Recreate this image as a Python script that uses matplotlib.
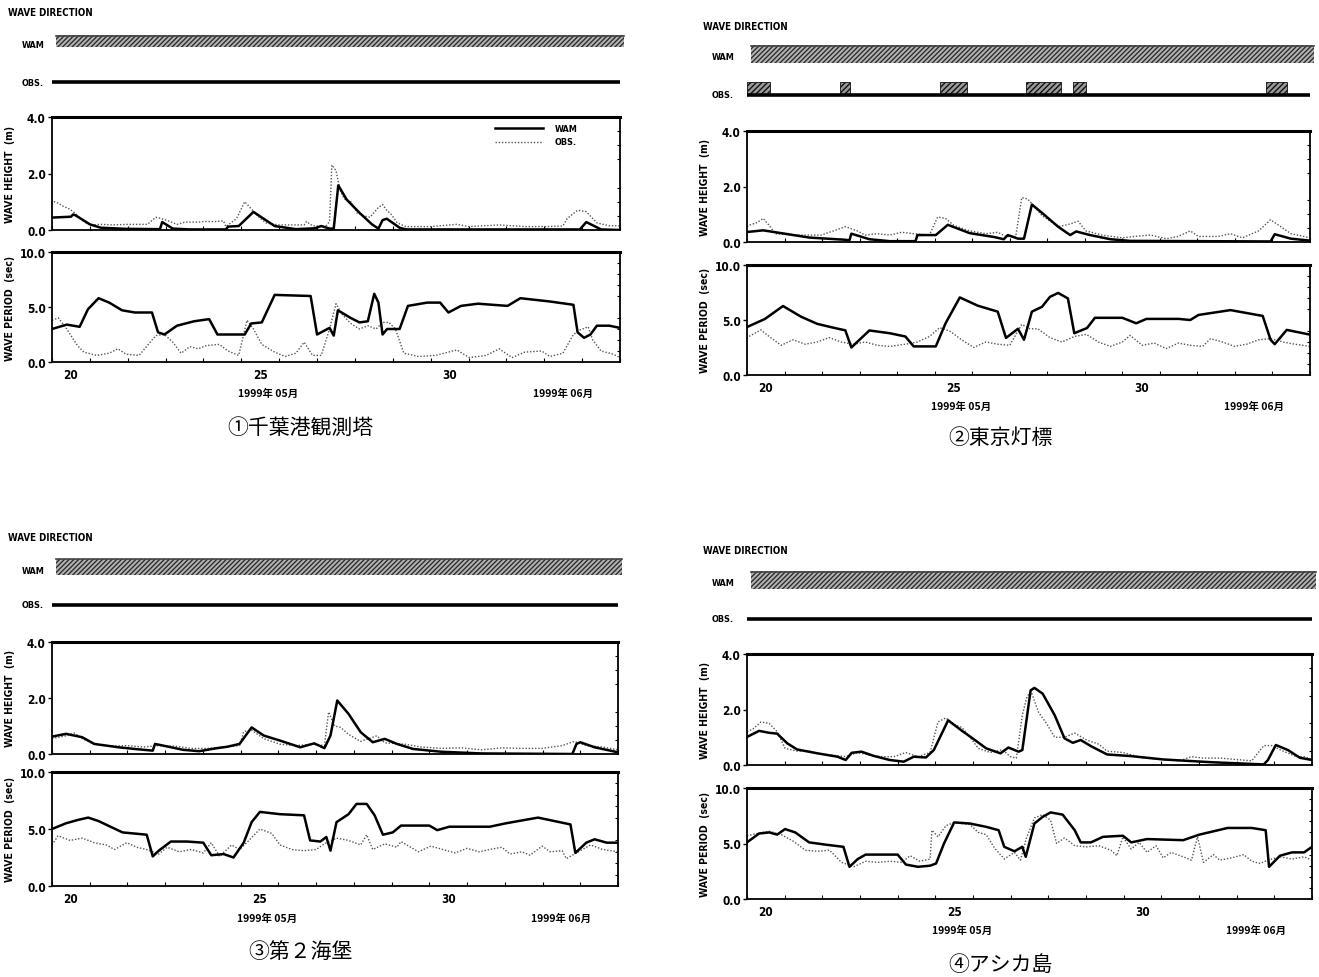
import matplotlib
matplotlib.use('Agg')
import matplotlib.pyplot as plt
from matplotlib.patches import Rectangle
from matplotlib.lines import Line2D
from matplotlib.ticker import MultipleLocator

W, H = 1319, 978
fig = plt.figure(figsize=(W / 100, H / 100), dpi=100)
fig.patch.set_facecolor('white')

FONT = ['DejaVu Sans']
FKW = dict(family=FONT, stretch='condensed', weight='bold')
JP = ['Noto Sans CJK JP', 'DejaVu Sans']

# ---------------- data (day of May 1999, value) ----------------
# Panel 1  千葉港観測塔
p1_hs_wam_t = [20.0, 20.5, 20.56, 20.62, 21.0, 21.29, 21.96, 22.85, 22.91, 23.19, 23.64, 24.59, 24.65, 24.93, 25.32,
               25.88, 26.44, 26.94, 27.11, 27.33, 27.44, 27.56, 27.78, 28.12, 28.45, 28.62, 28.73, 28.84, 29.18,
               29.35, 33.94, 34.11, 34.5, 35.0]
p1_hs_wam = [0.44, 0.47, 0.55, 0.52, 0.2, 0.08, 0.04, 0.03, 0.28, 0.05, 0.02, 0.02, 0.12, 0.14, 0.64,
             0.14, 0.03, 0.06, 0.14, 0.05, 0.05, 1.58, 1.08, 0.61, 0.2, 0.05, 0.35, 0.4, 0.08,
             0.02, 0.02, 0.28, 0.02, 0.0]
p1_hs_obs_t = [20.0, 20.06, 20.17, 20.28, 20.45, 20.56, 20.84, 21.0, 21.29, 21.6, 22.0, 22.52, 22.74, 22.85, 23.08,
               23.3, 23.52, 23.86, 24.0, 24.3, 24.53, 24.59, 24.87, 25.09, 25.26, 25.43, 25.65, 25.99, 26.66,
               26.72, 26.88, 27.22, 27.33, 27.39, 27.5, 27.61, 27.72, 27.89, 28.06, 28.23, 28.4, 28.62, 28.73,
               28.84, 28.96, 29.12, 29.35, 30.0, 30.69, 31.0, 31.81, 32.5, 33.0, 33.49, 33.6, 33.88, 34.11,
               34.39, 34.72, 35.0]
p1_hs_obs = [0.9, 1.0, 0.95, 0.85, 0.75, 0.65, 0.3, 0.18, 0.2, 0.18, 0.2, 0.2, 0.45, 0.42, 0.32,
             0.2, 0.28, 0.28, 0.3, 0.3, 0.32, 0.12, 0.4, 1.0, 0.75, 0.5, 0.25, 0.18, 0.18,
             0.3, 0.15, 0.12, 0.3, 2.3, 2.1, 1.4, 1.1, 1.0, 0.6, 0.5, 0.45, 0.8, 0.9,
             0.7, 0.55, 0.25, 0.12, 0.12, 0.2, 0.12, 0.18, 0.12, 0.12, 0.14, 0.4, 0.7, 0.65,
             0.25, 0.15, 0.15]
p1_tp_wam_t = [20.0, 20.39, 20.73, 20.95, 21.23, 21.51, 21.85, 22.19, 22.64, 22.8, 22.97, 23.3, 23.75, 24.15, 24.37,
               25.09, 25.26, 25.54, 25.88, 26.83, 27.0, 27.33, 27.44, 27.55, 27.89, 28.12, 28.34, 28.51, 28.62,
               28.73, 28.85, 29.18, 29.4, 29.91, 30.25, 30.47, 30.8, 31.25, 32.03, 32.37, 33.15, 33.77, 33.88,
               34.05, 34.22, 34.39, 34.72, 35.0]
p1_tp_wam = [3.0, 3.4, 3.2, 4.8, 5.8, 5.4, 4.7, 4.5, 4.5, 2.7, 2.5, 3.3, 3.7, 3.9, 2.5,
             2.5, 3.5, 3.6, 6.1, 6.0, 2.5, 3.1, 2.4, 4.7, 4.0, 3.6, 3.7, 6.2, 5.4,
             2.5, 3.0, 3.0, 5.1, 5.4, 5.4, 4.5, 5.1, 5.3, 5.1, 5.8, 5.5, 5.2, 2.7,
             2.2, 2.5, 3.3, 3.3, 3.1]
p1_tp_obs_t = [20.0, 20.17, 20.39, 20.67, 20.84, 21.18, 21.51, 21.74, 21.96, 22.3, 22.52, 22.74, 22.97, 23.19, 23.41,
               23.64, 23.86, 24.08, 24.42, 24.65, 24.93, 25.15, 25.32, 25.54, 25.88, 26.16, 26.44, 26.66, 26.88,
               27.11, 27.33, 27.5, 27.67, 27.89, 28.12, 28.34, 28.56, 28.73, 28.9, 29.07, 29.29, 29.68, 30.13,
               30.69, 31.02, 31.47, 31.81, 32.15, 32.49, 32.93, 33.15, 33.49, 33.77, 33.94, 34.16, 34.28, 34.5,
               34.83, 35.0]
p1_tp_obs = [3.8, 4.0, 3.0, 1.5, 0.9, 0.6, 0.8, 1.2, 0.7, 0.6, 1.5, 2.4, 2.5, 1.8, 0.8,
             1.4, 1.2, 1.5, 1.6, 1.0, 0.6, 3.8, 3.0, 1.6, 0.9, 0.5, 0.8, 1.8, 0.6,
             0.6, 3.0, 5.3, 4.3, 3.5, 3.0, 3.3, 3.0, 3.6, 3.6, 3.0, 0.8, 0.5, 0.6,
             1.1, 0.4, 0.6, 1.2, 0.4, 0.9, 1.0, 0.5, 0.8, 2.5, 2.9, 3.2, 2.0, 1.0,
             0.7, 0.4]

# Panel 2  東京灯標
p2_hs_wam_t = [20.0, 20.43, 20.91, 21.66, 22.62, 22.73, 22.78, 23.26, 23.8, 24.49, 24.54, 25.03, 25.35, 25.93, 26.58,
               26.84, 26.95, 27.22, 27.38, 27.59, 27.86, 28.29, 28.61, 28.77, 29.14, 29.68, 30.21, 33.95, 34.06,
               34.49, 35.0]
p2_hs_wam = [0.36, 0.42, 0.32, 0.16, 0.08, 0.06, 0.3, 0.1, 0.03, 0.03, 0.25, 0.25, 0.62, 0.32, 0.18,
             0.1, 0.25, 0.12, 0.12, 1.35, 1.05, 0.55, 0.25, 0.38, 0.25, 0.1, 0.04, 0.02, 0.28,
             0.12, 0.05]
p2_hs_obs_t = [20.0, 20.05, 20.27, 20.43, 20.59, 20.75, 21.23, 21.98, 22.3, 22.62, 22.94, 23.15, 23.47, 23.8, 24.12,
               24.44, 24.86, 25.08, 25.29, 25.51, 25.93, 26.36, 26.68, 26.9, 27.16, 27.32, 27.48, 27.64, 27.86,
               28.29, 28.61, 28.82, 29.03, 29.46, 30.0, 30.32, 30.75, 31.17, 31.49, 31.81, 32.03, 32.56, 32.88,
               33.2, 33.63, 33.95, 34.17, 34.49, 35.0]
p2_hs_obs = [0.55, 0.6, 0.7, 0.85, 0.6, 0.3, 0.25, 0.25, 0.4, 0.55, 0.4, 0.25, 0.3, 0.25, 0.35,
             0.3, 0.25, 0.9, 0.85, 0.6, 0.4, 0.3, 0.35, 0.2, 0.2, 1.6, 1.55, 1.3, 0.95,
             0.55, 0.65, 0.75, 0.4, 0.25, 0.15, 0.2, 0.25, 0.12, 0.2, 0.4, 0.2, 0.2, 0.3,
             0.15, 0.4, 0.8, 0.6, 0.3, 0.15]
p2_tp_wam_t = [20.0, 20.48, 20.96, 21.44, 21.87, 22.3, 22.62, 22.78, 23.26, 23.8, 24.22, 24.44, 25.03, 25.29, 25.67,
               26.15, 26.68, 26.9, 27.22, 27.38, 27.59, 27.86, 28.07, 28.29, 28.55, 28.72, 29.06, 29.27, 30.0,
               30.37, 30.64, 31.5, 31.81, 32.03, 32.88, 33.74, 33.95, 34.06, 34.38, 35.0]
p2_tp_wam = [4.36, 5.1, 6.27, 5.3, 4.65, 4.3, 4.06, 2.5, 4.05, 3.8, 3.5, 2.6, 2.6, 4.7, 7.05,
             6.3, 5.76, 3.37, 4.2, 3.2, 5.76, 6.2, 7.1, 7.46, 6.96, 3.8, 4.27, 5.2, 5.2,
             4.7, 5.1, 5.1, 5.0, 5.46, 5.9, 5.37, 3.2, 2.8, 4.1, 3.67]
p2_tp_obs_t = [20.0, 20.05, 20.37, 20.59, 20.91, 21.23, 21.55, 21.87, 22.19, 22.51, 22.83, 23.15, 23.47, 23.8, 24.22,
               24.54, 24.86, 25.13, 25.4, 25.72, 26.04, 26.36, 26.68, 27.0, 27.32, 27.54, 27.75, 28.07, 28.39,
               28.72, 29.04, 29.36, 29.68, 30.0, 30.21, 30.53, 30.85, 31.17, 31.49, 31.81, 32.14, 32.35, 32.67,
               32.99, 33.31, 33.63, 33.95, 34.28, 34.6, 35.0]
p2_tp_obs = [3.3, 3.5, 4.1, 3.5, 2.7, 3.2, 2.8, 3.0, 3.4, 3.0, 2.8, 3.0, 2.7, 2.6, 2.8,
             3.0, 3.5, 4.3, 4.0, 3.2, 2.5, 3.0, 2.8, 2.7, 4.6, 4.2, 4.2, 3.4, 3.0,
             3.5, 3.7, 3.0, 2.6, 3.0, 3.6, 2.7, 2.9, 2.4, 2.9, 2.7, 2.6, 3.3, 3.0,
             2.6, 2.8, 3.2, 3.3, 3.0, 2.8, 2.6]

# Panel 3  第２海堡
p3_hs_wam_t = [20.0, 20.37, 20.8, 21.12, 21.76, 22.19, 22.67, 22.73, 23.05, 23.47, 23.9, 24.33, 24.65, 24.97, 25.29,
               25.61, 26.04, 26.58, 26.95, 27.22, 27.38, 27.56, 27.86, 28.18, 28.5, 28.82, 29.14, 29.57, 30.32,
               31.39, 33.79, 33.9, 34.0, 34.38, 35.0]
p3_hs_wam = [0.62, 0.72, 0.6, 0.36, 0.24, 0.18, 0.12, 0.36, 0.27, 0.15, 0.1, 0.2, 0.26, 0.36, 0.95,
             0.66, 0.48, 0.24, 0.38, 0.21, 0.66, 1.91, 1.43, 0.78, 0.42, 0.54, 0.36, 0.18, 0.08,
             0.02, 0.0, 0.36, 0.42, 0.24, 0.06]
p3_hs_obs_t = [20.0, 20.37, 20.59, 20.8, 21.12, 21.55, 21.98, 22.41, 22.83, 23.26, 23.69, 24.12, 24.55, 24.97, 25.08,
               25.29, 25.61, 26.04, 26.47, 26.9, 27.22, 27.33, 27.49, 27.65, 27.86, 28.18, 28.61, 28.82, 29.35,
               29.78, 30.32, 30.85, 31.39, 31.92, 32.45, 32.99, 33.52, 33.84, 34.16, 34.59, 35.0]
p3_hs_obs = [0.55, 0.65, 0.75, 0.55, 0.35, 0.28, 0.3, 0.25, 0.3, 0.28, 0.2, 0.2, 0.25, 0.3, 0.8,
             0.85, 0.55, 0.35, 0.3, 0.35, 0.3, 1.5, 1.0, 0.95, 0.7, 0.45, 0.65, 0.4, 0.35,
             0.25, 0.2, 0.22, 0.15, 0.22, 0.2, 0.2, 0.3, 0.45, 0.3, 0.25, 0.15]
p3_tp_wam_t = [20.0, 20.37, 20.69, 20.96, 21.23, 21.55, 21.87, 22.19, 22.51, 22.67, 22.83, 23.15, 23.58, 24.01, 24.22,
               24.55, 24.81, 25.08, 25.29, 25.51, 26.04, 26.68, 26.84, 27.11, 27.27, 27.38, 27.54, 27.86, 28.07,
               28.34, 28.55, 28.77, 29.03, 29.25, 30.0, 30.21, 30.53, 31.6, 32.03, 32.88, 33.74, 33.87, 34.16,
               34.38, 34.7, 35.0]
p3_tp_wam = [5.0, 5.5, 5.8, 6.0, 5.7, 5.2, 4.7, 4.6, 4.5, 2.6, 3.1, 3.9, 3.9, 3.8, 2.7,
             2.8, 2.5, 3.8, 5.6, 6.5, 6.3, 6.2, 4.0, 3.9, 4.3, 3.1, 5.6, 6.3, 7.2,
             7.2, 6.2, 4.5, 4.7, 5.3, 5.3, 4.9, 5.2, 5.2, 5.5, 6.0, 5.4, 2.9, 3.8,
             4.1, 3.8, 3.8]
p3_tp_obs_t = [20.0, 20.16, 20.48, 20.8, 21.12, 21.44, 21.66, 21.98, 22.25, 22.51, 22.83, 23.05, 23.37, 23.69, 24.01,
               24.22, 24.44, 24.76, 24.97, 25.19, 25.51, 25.83, 26.04, 26.36, 26.68, 27.0, 27.22, 27.54, 27.86,
               28.18, 28.34, 28.5, 28.82, 29.14, 29.25, 29.71, 30.04, 30.36, 30.68, 31.0, 31.32, 31.6, 31.92,
               32.14, 32.45, 32.67, 32.99, 33.2, 33.52, 33.63, 33.95, 34.27, 34.6, 35.0]
p3_tp_obs = [3.6, 4.4, 4.0, 4.2, 3.8, 3.6, 3.2, 3.8, 3.4, 3.2, 2.8, 3.4, 3.0, 3.2, 2.9,
             3.8, 2.6, 3.6, 3.2, 3.9, 5.0, 4.6, 3.6, 3.2, 3.1, 3.2, 3.7, 4.2, 4.0,
             3.6, 4.5, 3.2, 3.7, 3.4, 3.9, 3.0, 3.5, 3.2, 2.9, 3.3, 3.0, 3.2, 3.4,
             2.8, 3.0, 2.7, 3.5, 3.0, 3.1, 2.4, 3.0, 3.6, 3.2, 3.0]

# Panel 4  アシカ島
p4_hs_wam_t = [20.0, 20.32, 20.59, 20.8, 21.07, 21.33, 21.87, 22.4, 22.62, 22.78, 23.04, 23.36, 23.79, 24.16, 24.43,
               24.75, 24.96, 25.34, 25.71, 26.03, 26.35, 26.73, 26.94, 27.21, 27.31, 27.53, 27.63, 27.85, 28.17,
               28.43, 28.65, 28.86, 29.13, 29.56, 30.2, 31.05, 32.33, 33.72, 33.83, 34.04, 34.36, 34.68, 35.0]
p4_hs_wam = [1.01, 1.23, 1.16, 1.13, 0.78, 0.56, 0.42, 0.3, 0.18, 0.44, 0.48, 0.33, 0.18, 0.12, 0.3,
             0.27, 0.54, 1.61, 1.23, 0.92, 0.6, 0.42, 0.63, 0.48, 0.54, 2.69, 2.78, 2.57, 1.79,
             0.96, 0.8, 0.9, 0.68, 0.38, 0.32, 0.2, 0.1, 0.02, 0.18, 0.72, 0.54, 0.26, 0.18]
p4_hs_obs_t = [20.0, 20.16, 20.37, 20.59, 20.8, 21.01, 21.33, 21.65, 21.97, 22.3, 22.62, 22.94, 23.26, 23.58, 23.9,
               24.22, 24.54, 24.86, 25.07, 25.28, 25.5, 25.71, 25.92, 26.14, 26.46, 26.78, 26.99, 27.15, 27.31,
               27.42, 27.53, 27.74, 27.95, 28.17, 28.43, 28.7, 29.02, 29.34, 29.56, 29.98, 30.52, 31.05, 31.48,
               31.8, 32.12, 32.55, 32.97, 33.4, 33.72, 33.94, 34.15, 34.58, 34.79, 35.0]
p4_hs_obs = [1.2, 1.3, 1.55, 1.5, 1.2, 0.6, 0.5, 0.5, 0.4, 0.35, 0.3, 0.45, 0.35, 0.3, 0.3,
             0.45, 0.3, 0.45, 1.55, 1.7, 1.45, 1.35, 1.0, 0.6, 0.45, 0.55, 0.3, 0.25, 1.8,
             2.4, 2.7, 1.9, 1.5, 1.0, 1.0, 1.15, 0.9, 0.75, 0.5, 0.45, 0.25, 0.2, 0.15,
             0.3, 0.25, 0.25, 0.2, 0.15, 0.7, 0.7, 0.55, 0.3, 0.3, 0.2]
p4_tp_wam_t = [20.0, 20.32, 20.59, 20.8, 21.01, 21.28, 21.65, 22.08, 22.56, 22.72, 22.94, 23.15, 24.0, 24.22, 24.54,
               24.86, 25.02, 25.23, 25.5, 25.92, 26.35, 26.68, 26.83, 27.1, 27.31, 27.4, 27.63, 27.85, 28.06,
               28.38, 28.7, 28.86, 29.13, 29.45, 29.98, 30.2, 30.62, 31.58, 32.01, 32.76, 33.4, 33.77, 33.86,
               34.15, 34.47, 34.79, 35.0]
p4_tp_wam = [5.1, 5.9, 6.0, 5.8, 6.3, 6.0, 5.1, 4.9, 4.7, 2.9, 3.6, 4.0, 4.0, 3.1, 2.9,
             3.0, 3.2, 5.0, 6.9, 6.8, 6.5, 6.2, 4.7, 4.3, 4.7, 3.8, 6.8, 7.4, 7.8,
             7.6, 6.2, 5.1, 5.1, 5.6, 5.7, 5.1, 5.4, 5.3, 5.8, 6.4, 6.4, 6.2, 2.9,
             3.9, 4.2, 4.2, 4.7]
p4_tp_obs_t = [20.0, 20.27, 20.59, 20.91, 21.23, 21.55, 21.87, 22.19, 22.51, 22.83, 23.15, 23.47, 23.8, 24.11, 24.33,
               24.59, 24.86, 24.91, 25.07, 25.28, 25.5, 25.92, 26.14, 26.35, 26.57, 26.83, 27.1, 27.26, 27.42,
               27.63, 27.85, 28.06, 28.22, 28.43, 28.7, 29.02, 29.34, 29.66, 29.82, 29.98, 30.2, 30.41, 30.62,
               30.86, 31.05, 31.26, 31.58, 31.8, 31.96, 32.12, 32.38, 32.55, 32.86, 33.19, 33.4, 33.62, 33.83,
               34.15, 34.47, 34.79, 35.0]
p4_tp_obs = [5.7, 5.9, 6.1, 5.8, 5.2, 4.4, 4.3, 4.4, 3.3, 2.9, 3.4, 3.3, 3.4, 3.3, 3.9,
             3.4, 3.6, 6.2, 5.6, 6.6, 6.9, 6.7, 6.0, 5.8, 4.6, 3.6, 4.2, 3.5, 5.5,
             7.3, 7.6, 7.1, 5.0, 5.5, 4.8, 4.7, 4.8, 4.4, 3.9, 5.6, 4.5, 5.1, 4.2,
             4.8, 3.7, 4.2, 3.8, 3.5, 5.6, 3.3, 4.0, 3.5, 3.7, 4.0, 3.4, 3.2, 3.5,
             3.8, 3.6, 3.8, 3.5]

# wave-direction strips (time spans, days)
wam_dir_span = [20.1, 35.1]
obs_dir_span = [20.0, 35.0]
p2_obs_dir_blocks = [(20.0, 20.6), (22.48, 22.74), (25.14, 25.86), (27.43, 28.37), (28.69, 29.03), (33.83, 34.39)]

captions = ['①千葉港観測塔', '②東京灯標', '③第２海堡', '④アシカ島']
month_labels = ['1999年 05月', '1999年 06月']
day_labels = ['20', '25', '30']

panels = [
    dict(hs=(p1_hs_wam_t, p1_hs_wam, p1_hs_obs_t, p1_hs_obs), tp=(p1_tp_wam_t, p1_tp_wam, p1_tp_obs_t, p1_tp_obs),
         x0=52, x1=620, title_y=13, wam_y=(36, 48), obs_y=83, hs_y=(118, 231), tp_y=(253, 363),
         cap=(300, 428), legend=True, blocks=None),
    dict(hs=(p2_hs_wam_t, p2_hs_wam, p2_hs_obs_t, p2_hs_obs), tp=(p2_tp_wam_t, p2_tp_wam, p2_tp_obs_t, p2_tp_obs),
         x0=747, x1=1310, title_y=27, wam_y=(46, 64), obs_y=96, hs_y=(132, 243), tp_y=(266, 376),
         cap=(1000, 438), legend=False, blocks=p2_obs_dir_blocks),
    dict(hs=(p3_hs_wam_t, p3_hs_wam, p3_hs_obs_t, p3_hs_obs), tp=(p3_tp_wam_t, p3_tp_wam, p3_tp_obs_t, p3_tp_obs),
         x0=52, x1=618, title_y=538, wam_y=(560, 576), obs_y=606, hs_y=(643, 755), tp_y=(773, 887),
         cap=(300, 952), legend=False, blocks=None),
    dict(hs=(p4_hs_wam_t, p4_hs_wam, p4_hs_obs_t, p4_hs_obs), tp=(p4_tp_wam_t, p4_tp_wam, p4_tp_obs_t, p4_tp_obs),
         x0=747, x1=1312, title_y=551, wam_y=(572, 590), obs_y=620, hs_y=(655, 766), tp_y=(789, 900),
         cap=(1000, 965), legend=False, blocks=None),
]


def ax_px(x0, y0, x1, y1, **kw):
    return fig.add_axes([x0 / W, 1 - y1 / H, (x1 - x0) / W, (y1 - y0) / H], **kw)


def style_axes(ax, ymax, ystep, yminor, ylabel, show_x):
    ax.set_xlim(20, 35)
    ax.set_ylim(0, ymax)
    for side, sp in ax.spines.items():
        sp.set_linewidth(1.3)
        sp.set_color('black')
    ax.spines['top'].set_linewidth(2.2)
    ax.yaxis.set_major_locator(MultipleLocator(ystep))
    ax.yaxis.set_minor_locator(MultipleLocator(yminor))
    ax.set_yticklabels([f'{v:.1f}' for v in ax.get_yticks()])
    ax.tick_params(axis='y', which='major', direction='out', length=3, width=1, labelsize=8.5, pad=1.5)
    ax.tick_params(axis='y', which='minor', direction='in', length=2, width=0.8, left=False, right=True)
    ax.xaxis.set_minor_locator(MultipleLocator(1))
    ax.tick_params(axis='x', which='minor', direction='in', length=3, width=0.8, top=False)
    if show_x:
        ax.set_xticks([20.5, 25.5, 30.5])
        ax.set_xticklabels(day_labels)
        ax.tick_params(axis='x', which='major', length=0, labelsize=8.5, pad=4)
    else:
        ax.set_xticks([])
    for lab in ax.get_xticklabels() + ax.get_yticklabels():
        lab.set_family(FONT)
        lab.set_fontstretch('condensed')
        lab.set_fontweight('bold')
    ax.set_ylabel(ylabel, fontsize=7.5, labelpad=4, **FKW)


for i, p in enumerate(panels):
    x0, x1 = p['x0'], p['x1']
    # header
    fig.text(8 / W if x0 < 600 else 703 / W, 1 - p['title_y'] / H, 'WAVE DIRECTION', fontsize=7,
             va='center', ha='left', **FKW)
    lx = 22 if x0 < 600 else 712
    fig.text(lx / W, 1 - (sum(p['wam_y']) / 2 + 3) / H, 'WAM', fontsize=6.5, va='center', **FKW)
    fig.text(lx / W, 1 - p['obs_y'] / H, 'OBS.', fontsize=6.5, va='center', **FKW)

    # direction strip axes (pixel y units)
    top = p['wam_y'][0] - 4
    bot = p['obs_y'] + 6
    dax = ax_px(x0, top, x1, bot)
    dax.set_xlim(20, 35)
    dax.set_ylim(bot, top)
    dax.axis('off')
    dax.add_patch(Rectangle((wam_dir_span[0], p['wam_y'][0]), wam_dir_span[1] - wam_dir_span[0],
                            p['wam_y'][1] - p['wam_y'][0], facecolor='#b4b4b4', edgecolor='#2e2e2e',
                            hatch='///////', lw=0, clip_on=False))
    dax.plot(wam_dir_span, [p['wam_y'][0] + 0.5] * 2, color='#444444', lw=1.2, clip_on=False)
    dax.plot(obs_dir_span, [p['obs_y']] * 2, color='black', lw=2.6, clip_on=False, solid_capstyle='butt')
    if p['blocks']:
        for (b0, b1) in p['blocks']:
            dax.add_patch(Rectangle((b0, p['obs_y'] - 13), b1 - b0, 12, facecolor='#9a9a9a',
                                    edgecolor='#111111', hatch='//////', lw=0.6, clip_on=False))

    # wave height
    ax1 = ax_px(x0, p['hs_y'][0], x1, p['hs_y'][1])
    t_w, v_w, t_o, v_o = p['hs']
    ax1.plot(t_o, v_o, color='#555555', lw=1.0, linestyle=(0, (1, 1.3)))
    ax1.plot(t_w, v_w, color='black', lw=1.8)
    style_axes(ax1, 4.0, 2.0, 0.5, 'WAVE HEIGHT  (m)', False)
    if p['legend']:
        ax1.add_line(Line2D([0.78, 0.865], [0.9, 0.9], transform=ax1.transAxes, color='black', lw=1.8))
        ax1.add_line(Line2D([0.78, 0.865], [0.78, 0.78], transform=ax1.transAxes, color='#555555', lw=1.0,
                            linestyle=(0, (1, 1.3))))
        ax1.text(0.885, 0.9, 'WAM', transform=ax1.transAxes, fontsize=6.5, va='center', **FKW)
        ax1.text(0.885, 0.78, 'OBS.', transform=ax1.transAxes, fontsize=6.5, va='center', **FKW)

    # wave period
    ax2 = ax_px(x0, p['tp_y'][0], x1, p['tp_y'][1])
    t_w, v_w, t_o, v_o = p['tp']
    ax2.plot(t_o, v_o, color='#555555', lw=1.0, linestyle=(0, (1, 1.3)))
    ax2.plot(t_w, v_w, color='black', lw=1.8)
    style_axes(ax2, 10.0, 5.0, 1.0, 'WAVE PERIOD  (sec)', True)
    ax2.text(25.7, -0.28, month_labels[0], transform=ax2.get_xaxis_transform(), fontsize=7.5, family=JP,
             weight='bold', ha='center', va='center')
    ax2.text(33.5, -0.28, month_labels[1], transform=ax2.get_xaxis_transform(), fontsize=7.5, family=JP,
             weight='bold', ha='center', va='center')

    ax1.yaxis.set_label_coords(-0.066, 0.5)
    ax2.yaxis.set_label_coords(-0.066, 0.5)

    fig.text(p['cap'][0] / W, 1 - p['cap'][1] / H, captions[i], fontsize=15, family=JP,
             ha='center', va='center')

fig.savefig('out.png', dpi=100, facecolor='white')
